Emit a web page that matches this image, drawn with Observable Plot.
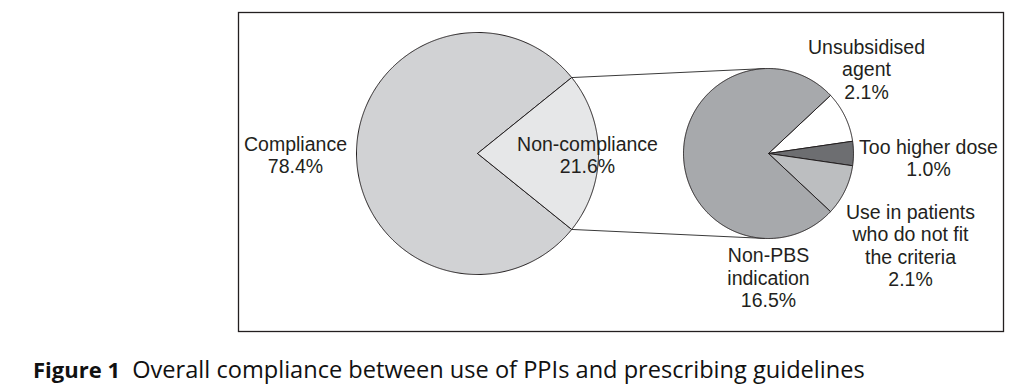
<!DOCTYPE html>
<html>
<head>
<meta charset="utf-8">
<script src="https://cdn.jsdelivr.net/npm/d3@7"></script>
<script src="https://cdn.jsdelivr.net/npm/@observablehq/plot@0.6"></script>
<style>
  html, body { margin: 0; padding: 0; background: #fff; }
  #wrap { position: relative; width: 1024px; height: 390px; }
  #chart svg { display: block; }
  #caption {
    position: absolute; left: 33px; top: 354px;
    font-family: "Open Sans", sans-serif; font-size: 23.6px; color: #111;
    white-space: nowrap; line-height: 30px;
  }
  #caption b { font-weight: 700; font-size: 22px; }
</style>
</head>
<body>
<div id="wrap">
  <div id="chart"></div>
  <div id="caption"><b>Figure 1</b>&nbsp; Overall compliance between use of PPIs and prescribing guidelines</div>
</div>
<script>
// ---- data ----
const mainCategories = ["Compliance", "Non-compliance"];
const mainValues = [78.4, 21.6];
const subCategories = ["Unsubsidised agent", "Too higher dose", "Use in patients who do not fit the criteria", "Non-PBS indication"];
const subValues = [2.1, 1.0, 2.1, 16.5];
const mainLabelText = ["Compliance", "Non-compliance"];
const subLabelText = ["Unsubsidised\nagent", "Too higher dose", "Use in patients\nwho do not fit\nthe criteria", "Non-PBS\nindication"];

// ---- styles / layout ----
const mainColors = ["#d1d2d4", "#e6e7e8"];
const subColors = ["#ffffff", "#6d6e71", "#bcbec0", "#a7a9ac"];
const W = 1024, H = 345;
const box = {x1: 238, x2: 1003, y1: 12, y2: 331};
const big = {cx: 477, cy: 153, r: 121};
const small = {cx: 768, cy: 153, r: 85};
const fontSize = 19.5, lineH = 22.2;
// label anchors: [center x, first baseline y]
const mainLabelPos = [[295, 148.5], [587, 148.5]];
const subLabelPos = [[866, 51.7], [928, 151.7], [910, 216.7], [768, 260]];

// ---- geometry from data ----
const mainTotal = d3.sum(mainValues);
const nonFrac = mainValues[1] / mainTotal;
const bigStart = Math.PI / 2 + nonFrac * Math.PI;
const mainArcs = d3.pie().sort(null).startAngle(bigStart).endAngle(bigStart + 2 * Math.PI)(mainValues);

const subTotal = d3.sum(subValues);
const smallFrac = d3.sum(subValues.slice(0, 3)) / subTotal;
const smallStart = Math.PI / 2 - smallFrac * Math.PI;
const subArcs = d3.pie().sort(null).startAngle(smallStart).endAngle(smallStart + 2 * Math.PI)(subValues);

function wedge(name, arc, c) {
  const pts = [{name, x: c.cx, y: c.cy}];
  const n = Math.max(2, Math.ceil((arc.endAngle - arc.startAngle) / (Math.PI / 360)));
  for (let i = 0; i <= n; i++) {
    const a = arc.startAngle + (arc.endAngle - arc.startAngle) * i / n;
    pts.push({name, x: c.cx + c.r * Math.sin(a), y: c.cy - c.r * Math.cos(a)});
  }
  pts.push({name, x: c.cx, y: c.cy});
  return pts;
}
const wedges = [
  ...mainArcs.flatMap((a, i) => wedge(mainCategories[i], a, big)),
  ...subArcs.flatMap((a, i) => wedge(subCategories[i], a, small))
];

// connector lines: from edges of the non-compliance wedge, tangent to small pie
function tangent(px, py, c, sign) {
  const dx = px - c.cx, dy = py - c.cy, d = Math.hypot(dx, dy);
  const base = Math.atan2(dy, dx), off = Math.acos(c.r / d);
  const t = base + sign * off;
  return {x: c.cx + c.r * Math.cos(t), y: c.cy + c.r * Math.sin(t)};
}
const ncArc = mainArcs[1];
const edgeA = ncArc.startAngle, edgeB = ncArc.endAngle;
const pTop = {x: big.cx + big.r * Math.sin(edgeA), y: big.cy - big.r * Math.cos(edgeA)};
const pBot = {x: big.cx + big.r * Math.sin(edgeB), y: big.cy - big.r * Math.cos(edgeB)};
const tTop = tangent(pTop.x, pTop.y, small, 1);
const tBot = tangent(pBot.x, pBot.y, small, -1);
const connectors = [
  {k: "top", x: pTop.x, y: pTop.y}, {k: "top", x: tTop.x, y: tTop.y},
  {k: "bot", x: pBot.x, y: pBot.y}, {k: "bot", x: tBot.x, y: tBot.y}
];

const labels = [
  ...mainCategories.map((c, i) => ({text: mainLabelText[i] + "\n" + mainValues[i].toFixed(1) + "%", x: mainLabelPos[i][0], y: mainLabelPos[i][1] - 0.71 * fontSize})),
  ...subCategories.map((c, i) => ({text: subLabelText[i] + "\n" + subValues[i].toFixed(1) + "%", x: subLabelPos[i][0], y: subLabelPos[i][1] - 0.71 * fontSize}))
];

const chart = Plot.plot({
  width: W, height: H,
  marginLeft: box.x1, marginRight: W - box.x2, marginTop: box.y1, marginBottom: H - box.y2,
  x: {domain: [box.x1, box.x2], range: [box.x1, box.x2], axis: null},
  y: {domain: [box.y1, box.y2], range: [box.y1, box.y2], axis: null},
  color: {domain: [...mainCategories, ...subCategories], range: [...mainColors, ...subColors]},
  style: {background: "#fff", overflow: "visible"},
  marks: [
    Plot.line(connectors, {x: "x", y: "y", z: "k", stroke: "#3a3a3a", strokeWidth: 1}),
    Plot.line(wedges, {x: "x", y: "y", z: "name", fill: "name", stroke: "#231f20", strokeWidth: 1, curve: "linear", strokeLinejoin: "miter"}),
    Plot.text(labels, {x: "x", y: "y", text: "text", lineAnchor: "top", lineHeight: lineH / fontSize,
      fontSize, fontFamily: "Liberation Sans, Arial, sans-serif", fill: "#231f20"}),
    Plot.frame({stroke: "#231f20", strokeWidth: 1.3})
  ]
});
document.getElementById("chart").appendChild(chart);
</script>
</body>
</html>
